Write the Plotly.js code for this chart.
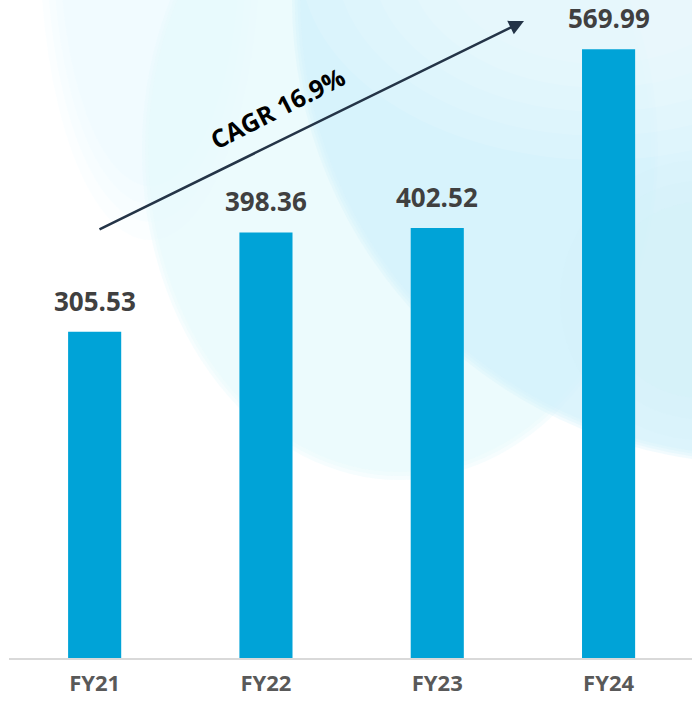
<!DOCTYPE html>
<html>
<head>
<meta charset="utf-8">
<script src="https://cdn.plot.ly/plotly-3.0.1.min.js"></script>
<style>
  html, body { margin: 0; padding: 0; background: #ffffff; }
  #chart { width: 692px; height: 702px; }
</style>
</head>
<body>
<div id="chart"></div>
<script>
// ---- data ----
const categories = ["FY21", "FY22", "FY23", "FY24"];
const values = [305.53, 398.36, 402.52, 569.99];
const valueLabels = ["305.53", "398.36", "402.52", "569.99"];
const cagrLabel = "CAGR 16.9%";

// ---- layout helpers (page pixels -> paper fractions) ----
const W = 692, H = 702;
const M = { l: 9, r: 0, t: 0, b: 44 };
const PW = W - M.l - M.r, PH = H - M.t - M.b;
const px = x => (x - M.l) / PW;
const py = y => 1 - (y - M.t) / PH;

function ellipse(cx, cy, rx, ry, color, opacity) {
  return {
    type: "circle", xref: "paper", yref: "paper", layer: "below",
    x0: px(cx - rx), x1: px(cx + rx), y0: py(cy + ry), y1: py(cy - ry),
    fillcolor: color, opacity: opacity, line: { width: 0 }
  };
}
// soft-edged blob: several concentric ellipses with low opacity
function softBlob(cx, cy, rx, ry, color, steps, op, shrink) {
  const out = [];
  for (let k = 0; k < steps; k++) {
    const f = 1 - k * shrink;
    out.push(ellipse(cx, cy, rx * f, ry * f, color, op));
  }
  return out;
}

const shapes = [].concat(
  // faint band in the upper left
  softBlob(150, -60, 110, 300, "#e6f7fc", 4, 0.15, 0.06),
  // large faint disk
  softBlob(400, 150, 258, 330, "#e6f8fc", 3, 0.35, 0.012),
  // darker light-blue disk at the top right
  softBlob(760, 0, 468, 464, "#d2f0fa", 4, 0.28, 0.006),
  // lighter glow towards the top
  softBlob(600, -40, 300, 200, "#ffffff", 5, 0.1, 0.12),
  softBlob(700, 300, 140, 140, "#d3f1fb", 3, 0.15, 0.15)
);

const barTrace = {
  type: "bar",
  x: categories,
  y: values,
  width: 0.31,
  marker: { color: "#00a3d7", line: { width: 0 } },
  hoverinfo: "x+y"
};

const annotations = categories.map((c, i) => ({
  x: c, y: values[i], xref: "x", yref: "y",
  text: valueLabels[i], showarrow: false,
  xanchor: "center", yanchor: "bottom", yshift: 11,
  font: { family: "Open Sans", size: 26, color: "#404040", weight: 700 }
}));

// CAGR arrow
annotations.push({
  xref: "paper", yref: "paper",
  x: px(524), y: py(21),
  axref: "pixel", ayref: "pixel",
  ax: -426, ay: 209,
  showarrow: true, arrowhead: 2, arrowsize: 1.2, arrowwidth: 2.5,
  arrowcolor: "#243447", standoff: 0, text: ""
});
annotations.push({
  xref: "paper", yref: "paper",
  x: px(277), y: py(108),
  xanchor: "center", yanchor: "middle",
  text: cagrLabel, showarrow: false, textangle: -27,
  font: { family: "Open Sans", size: 25, color: "#000000", weight: 700 }
});

const layout = {
  width: W, height: H,
  margin: M,
  paper_bgcolor: "#ffffff",
  plot_bgcolor: "rgba(0,0,0,0)",
  showlegend: false,
  xaxis: {
    type: "category",
    range: [-0.5, 3.487],
    showline: true, linecolor: "#d9d9d9", linewidth: 2,
    ticks: "", showgrid: false, zeroline: false,
    ticklabelstandoff: 5,
    tickfont: { family: "Open Sans", size: 22, color: "#595959", weight: 700 },
    fixedrange: true
  },
  yaxis: {
    range: [0, 616],
    visible: false, showgrid: false, zeroline: false,
    fixedrange: true
  },
  shapes: shapes,
  annotations: annotations
};

Plotly.newPlot("chart", [barTrace], layout, { displayModeBar: false, staticPlot: true });
</script>
</body>
</html>
